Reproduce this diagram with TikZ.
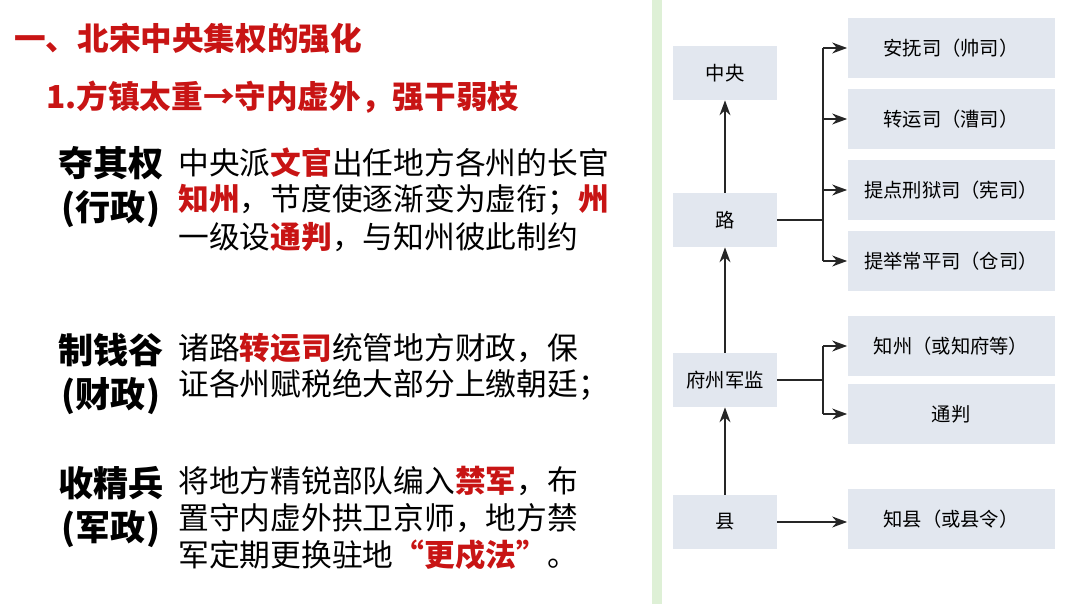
\documentclass[tikz,border=0pt]{standalone}
\usepackage{fontspec}
\setmainfont{Noto Sans CJK SC}
\newfontfamily\cjk{Noto Sans CJK SC}
\usetikzlibrary{arrows.meta, positioning}
\definecolor{hired}{RGB}{200,20,20}
\definecolor{boxfill}{RGB}{226,231,239}
\definecolor{stripgreen}{RGB}{222,240,214}
\begin{document}
\begin{tikzpicture}[
    x=0.02cm, y=-0.02cm,
    unit/.style={fill=boxfill, minimum width=104*0.02cm, minimum height=54*0.02cm, inner sep=0pt, font=\fontsize{11}{13}\selectfont},
    office/.style={fill=boxfill, minimum width=207*0.02cm, minimum height=60*0.02cm, inner sep=0pt, font=\fontsize{11}{13}\selectfont},
    link/.style={-{Stealth[length=3mm, width=2.2mm]}, thick, black!85},
    heading/.style={anchor=west, text=hired, font=\fontsize{18}{21}\selectfont\bfseries},
    topic/.style={anchor=north west, align=center, font=\fontsize{20}{25}\selectfont\bfseries},
    body/.style={anchor=west, inner sep=0pt, font=\fontsize{17.5}{21}\selectfont}
]
\useasboundingbox (0,0) rectangle (1080,604);
\fill[stripgreen] (652,0) rectangle (662,604);

% Left: headings
\node[heading] (title) at (8,38) {一、北宋中央集权的强化};
\node[heading] (sub) at (40,97) {1.方镇太重→守内虚外，强干弱枝};

% Left: three measures
\node[topic] (t1) at (52,140) {夺其权\\(行政)};
\node[body] (a1) at (178,163) {中央派\textcolor{hired}{\bfseries 文官}出任地方各州的长官};
\node[body] (a2) at (178,200) {\textcolor{hired}{\bfseries 知州}，节度使逐渐变为虚衔；\textcolor{hired}{\bfseries 州}};
\node[body] (a3) at (178,237) {一级设\textcolor{hired}{\bfseries 通判}，与知州彼此制约};

\node[topic] (t2) at (52,327) {制钱谷\\(财政)};
\node[body] (b1) at (178,348) {诸路\textcolor{hired}{\bfseries 转运司}统管地方财政，保};
\node[body] (b2) at (178,385) {证各州赋税绝大部分上缴朝廷；};

\node[topic] (t3) at (52,460) {收精兵\\(军政)};
\node[body] (c1) at (178,481) {将地方精锐部队编入\textcolor{hired}{\bfseries 禁军}，布};
\node[body] (c2) at (178,518) {置守内虚外拱卫京师，地方禁};
\node[body] (c3) at (178,555) {军定期更换驻地\textcolor{hired}{\bfseries “更戍法”}。};

% Right: hierarchy
\node[unit] (center) at (725,73) {中央};
\node[unit] (road) at (725,220) {路};
\node[unit] (pref) at (725,380) {府州军监};
\node[unit] (county) at (725,522) {县};

\node[office] (anfu) at (951,48) {安抚司（帅司）};
\node[office] (zhuan) at (951,119) {转运司（漕司）};
\node[office] (xing) at (951,190) {提点刑狱司（宪司）};
\node[office] (cang) at (951,261) {提举常平司（仓司）};
\node[office] (zhizhou) at (951,346) {知州（或知府等）};
\node[office] (tongpan) at (951,414) {通判};
\node[office] (zhixian) at (951,519) {知县（或县令）};

\draw[link] (road) -- (center);
\draw[link] (pref) -- (road);
\draw[link] (county) -- (pref);
\draw[link] (county) -- (zhixian.west |- county);

\coordinate (rbus) at (823,220);
\draw[thick, black!85] (road.east) -- (rbus);
\foreach \t in {anfu, zhuan, xing, cang}
  \draw[link] (rbus |- \t.west) -- (\t.west);
\draw[thick, black!85] (rbus |- anfu.west) -- (rbus |- cang.west);

\coordinate (pbus) at (823,380);
\draw[thick, black!85] (pref.east) -- (pbus);
\foreach \t in {zhizhou, tongpan}
  \draw[link] (pbus |- \t.west) -- (\t.west);
\draw[thick, black!85] (pbus |- zhizhou.west) -- (pbus |- tongpan.west);
\end{tikzpicture}
\end{document}
